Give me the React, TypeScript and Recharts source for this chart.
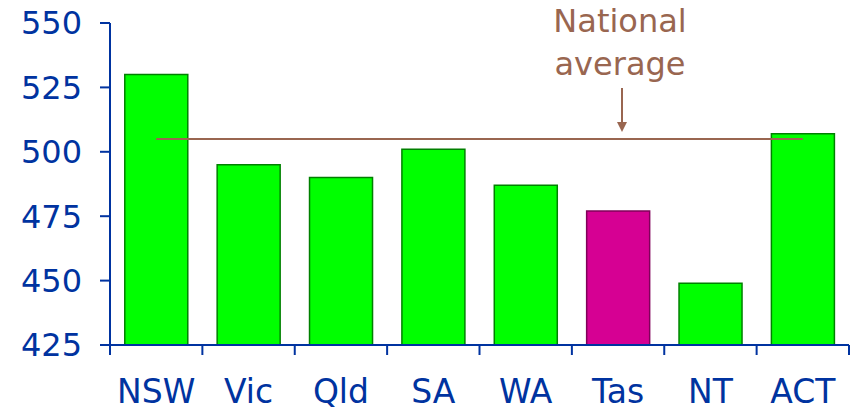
import { Bar, Cell, ComposedChart, Line, XAxis, YAxis } from "recharts";

const states = ["NSW", "Vic", "Qld", "SA", "WA", "Tas", "NT", "ACT"];
const scores = [530, 495, 490, 501, 487, 477, 449, 507];
const nationalAverage = 505;
const highlighted = "Tas";
const yTicks = [425, 450, 475, 500, 525, 550];

const BLUE = "#0033A0";
const BROWN = "#996650";
const FONT = "'DejaVu Sans', Verdana, sans-serif";

const data = states.map((s, i) => ({ state: s, score: scores[i], avg: nationalAverage }));

// category ticks sit on the band edges, not the centres
function StateTick(props: any) {
  const { x, y, payload, index } = props;
  const half = payload?.offset ?? 46;
  return (
    <g>
      <line x1={x - half} y1={y} x2={x - half} y2={y + 10} stroke={BLUE} strokeWidth={2} />
      {index === states.length - 1 && (
        <line x1={x + half} y1={y} x2={x + half} y2={y + 10} stroke={BLUE} strokeWidth={2} />
      )}
      <text x={x} y={y + 58} textAnchor="middle" fill={BLUE} fontSize={33} fontFamily={FONT}>
        {payload.value}
      </text>
    </g>
  );
}

export default function App() {
  return (
    <div style={{ position: "absolute", left: 0, top: 0, width: 855, height: 412, background: "#fff" }}>
      <ComposedChart
        width={855}
        height={412}
        data={data}
        margin={{ top: 23, right: 6, left: 0, bottom: 0 }}
        barCategoryGap="16%"
      >
        <XAxis
          dataKey="state"
          stroke={BLUE}
          strokeWidth={2}
          tickLine={false}
          tickSize={0}
          tickMargin={0}
          height={67}
          interval={0}
          tick={<StateTick />}
        />
        <YAxis
          domain={[425, 550]}
          ticks={yTicks}
          allowDataOverflow
          stroke={BLUE}
          strokeWidth={2}
          width={110}
          tickSize={10}
          tickMargin={18}
          tick={{ fill: BLUE, fontSize: 32, fontFamily: FONT }}
        />
        <Bar dataKey="score" stroke="#008000" strokeWidth={1.5} isAnimationActive={false}>
          {data.map((d) => (
            <Cell
              key={d.state}
              fill={d.state === highlighted ? "#D60093" : "#00FF00"}
              stroke={d.state === highlighted ? "#80005A" : "#008000"}
            />
          ))}
        </Bar>
        <Line
          type="linear"
          dataKey="avg"
          stroke={BROWN}
          strokeWidth={2}
          dot={false}
          activeDot={false}
          isAnimationActive={false}
        />
      </ComposedChart>
      <svg
        width={855}
        height={412}
        style={{ position: "absolute", left: 0, top: 0, pointerEvents: "none" }}
      >
        <text x={620} y={32} textAnchor="middle" fill={BROWN} fontSize={32} fontFamily={FONT}>
          National
        </text>
        <text x={620} y={75} textAnchor="middle" fill={BROWN} fontSize={32} fontFamily={FONT}>
          average
        </text>
        <line x1={622} y1={88} x2={622} y2={124} stroke={BROWN} strokeWidth={2} />
        <polygon points="617,122 627,122 622,132" fill={BROWN} />
      </svg>
    </div>
  );
}
